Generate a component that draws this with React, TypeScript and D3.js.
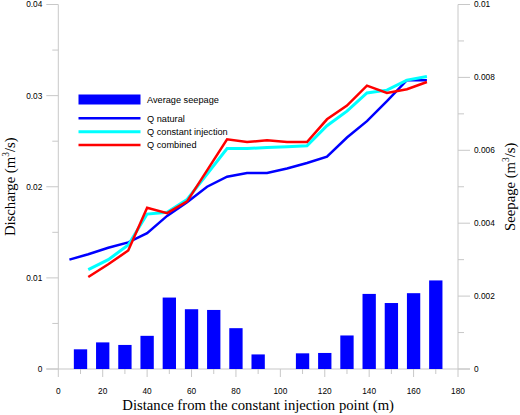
import React from "react";
import * as d3 from "d3";

const distX = [5, 13.5, 22.5, 31.5, 40, 49, 58, 67, 76, 85, 94, 103, 112, 121, 130, 139, 148, 157, 166];
const qNatural = [0.012, 0.0126, 0.0133, 0.0139, 0.0149, 0.0168, 0.0183, 0.02, 0.0211, 0.0215, 0.0215, 0.022, 0.0226, 0.0233, 0.0254, 0.0272, 0.0294, 0.0317, 0.0317];
const distX2 = [13.5, 22.5, 31.5, 40, 49, 58, 67, 76, 85, 94, 103, 112, 121, 130, 139, 148, 157, 166];
const qInjection = [0.0109, 0.012, 0.0136, 0.017, 0.0172, 0.0186, 0.0214, 0.0242, 0.0242, 0.0243, 0.0244, 0.0245, 0.0267, 0.0283, 0.0303, 0.0306, 0.0317, 0.0321];
const qCombined = [0.0101, 0.0115, 0.013, 0.0177, 0.0171, 0.0184, 0.0218, 0.0252, 0.0249, 0.0251, 0.0249, 0.0249, 0.0274, 0.0289, 0.0311, 0.0303, 0.0307, 0.0315];

const barX = [10, 20, 30, 40, 50, 60, 70, 80, 90, 110, 120, 130, 140, 150, 160, 170];
const seepage = [0.00054, 0.00073, 0.00066, 0.00091, 0.00196, 0.00164, 0.00162, 0.00112, 0.0004, 0.00043, 0.00044, 0.00092, 0.00206, 0.00181, 0.00208, 0.00243];

const xTicks = [0, 20, 40, 60, 80, 100, 120, 140, 160, 180];
const xMinor = [10, 30, 50, 70, 90, 110, 130, 150, 170];
const leftTicks = [0, 0.01, 0.02, 0.03, 0.04];
const leftTickLabels = ["0", "0.01", "0.02", "0.03", "0.04"];
const leftMinor = [0.005, 0.015, 0.025, 0.035];
const rightTicks = [0, 0.002, 0.004, 0.006, 0.008, 0.01];
const rightTickLabels = ["0", "0.002", "0.004", "0.006", "0.008", "0.01"];
const rightMinor = [0.001, 0.003, 0.005, 0.007, 0.009];

const legendItems = ["Q natural", "Q constant injection", "Q combined"];
const legendColors = ["#0000ff", "#00ffff", "#ff0000"];

export default function App() {
  const W = 520, H = 415;
  const x0 = 58.3, x1 = 458, yTop = 4.5, yBot = 369;
  const x = d3.scaleLinear().domain([0, 180]).range([x0, x1]);
  const yL = d3.scaleLinear().domain([0, 0.04]).range([yBot, yTop]);
  const yR = d3.scaleLinear().domain([0, 0.01]).range([yBot, yTop]);
  const axisColor = "#c8c8c8";
  const sans = "'Liberation Sans', Arial, sans-serif";
  const serif = "'Liberation Serif', 'Times New Roman', serif";
  const barW = x(6) - x(0);

  const line = (xs: number[], ys: number[]) =>
    d3.line<number>().x((_, i) => x(xs[i])).y((d) => yL(d))(ys) || "";

  const series = [
    { xs: distX, ys: qNatural, color: legendColors[0], w: 2.5 },
    { xs: distX2, ys: qInjection, color: legendColors[1], w: 3 },
    { xs: distX2, ys: qCombined, color: legendColors[2], w: 2.5 },
  ];

  return (
    <svg width={W} height={H} style={{ position: "absolute", left: 0, top: 0, background: "#fff" }}>
      {/* axes */}
      <line x1={x0} x2={x0} y1={yTop} y2={yBot} stroke={axisColor} strokeWidth={1} />
      <line x1={x1} x2={x1} y1={yTop} y2={yBot} stroke={axisColor} strokeWidth={1} />
      <line x1={x0 - 12} x2={x1 + 12} y1={yBot} y2={yBot} stroke={axisColor} strokeWidth={1.2} />
      {leftTicks.map((t, i) => (
        <g key={"lt" + i}>
          <line x1={x0 - 12} x2={x0} y1={yL(t)} y2={yL(t)} stroke={axisColor} />
          <text x={x0 - 16} y={yL(t)} dy="0.35em" textAnchor="end" fontFamily={sans} fontSize={8.3} fill="#000">
            {leftTickLabels[i]}
          </text>
        </g>
      ))}
      {leftMinor.map((t, i) => (
        <line key={"lm" + i} x1={x0 - 6} x2={x0} y1={yL(t)} y2={yL(t)} stroke={axisColor} />
      ))}
      {rightTicks.map((t, i) => (
        <g key={"rt" + i}>
          <line x1={x1} x2={x1 + 12} y1={yR(t)} y2={yR(t)} stroke={axisColor} />
          <text x={x1 + 16} y={yR(t)} dy="0.35em" textAnchor="start" fontFamily={sans} fontSize={8.3} fill="#000">
            {rightTickLabels[i]}
          </text>
        </g>
      ))}
      {rightMinor.map((t, i) => (
        <line key={"rm" + i} x1={x1} x2={x1 + 6} y1={yR(t)} y2={yR(t)} stroke={axisColor} />
      ))}
      {xTicks.map((t, i) => (
        <g key={"xt" + i}>
          <line x1={x(t)} x2={x(t)} y1={yBot} y2={yBot + 8} stroke={axisColor} />
          <text x={x(t)} y={yBot + 25} textAnchor="middle" fontFamily={sans} fontSize={8.3} fill="#000">
            {t}
          </text>
        </g>
      ))}
      {xMinor.map((t, i) => (
        <line key={"xm" + i} x1={x(t)} x2={x(t)} y1={yBot} y2={yBot + 5} stroke={axisColor} />
      ))}

      {/* bars */}
      {barX.map((b, i) => (
        <rect key={"b" + i} x={x(b) - barW / 2} y={yR(seepage[i])} width={barW} height={yBot - yR(seepage[i])} fill="#0000ff" />
      ))}

      {/* lines */}
      {series.map((s, i) => (
        <path key={"s" + i} d={line(s.xs, s.ys)} fill="none" stroke={s.color} strokeWidth={s.w} strokeLinejoin="miter" />
      ))}

      {/* legend */}
      <rect x={78.5} y={94.5} width={62} height={10} fill="#0000ff" />
      <text x={147} y={99.5} dy="0.35em" fontFamily={sans} fontSize={9.2} fill="#000">Average seepage</text>
      {legendItems.map((l, i) => (
        <g key={"lg" + i}>
          <line x1={78.5} x2={140.5} y1={118.3 + i * 13.4} y2={118.3 + i * 13.4} stroke={legendColors[i]} strokeWidth={i === 1 ? 3 : 2.5} />
          <text x={147} y={118.3 + i * 13.4} dy="0.35em" fontFamily={sans} fontSize={9.2} fill="#000">{l}</text>
        </g>
      ))}

      {/* titles */}
      <text x={(x0 + x1) / 2} y={410} textAnchor="middle" fontFamily={serif} fontSize={14.7} fill="#000">
        Distance from the constant injection point (m)
      </text>
      <text transform={`translate(14.5, ${(yTop + yBot) / 2}) rotate(-90)`} textAnchor="middle" fontFamily={serif} fontSize={14.7} fill="#000">
        Discharge (m<tspan fontSize={9.5} dy={-6}>3</tspan><tspan dy={6}>/s)</tspan>
      </text>
      <text transform={`translate(515, ${(yTop + yBot) / 2}) rotate(-90)`} textAnchor="middle" fontFamily={serif} fontSize={14.7} fill="#000">
        Seepage (m<tspan fontSize={9.5} dy={-6}>3</tspan><tspan dy={6}>/s)</tspan>
      </text>
    </svg>
  );
}
